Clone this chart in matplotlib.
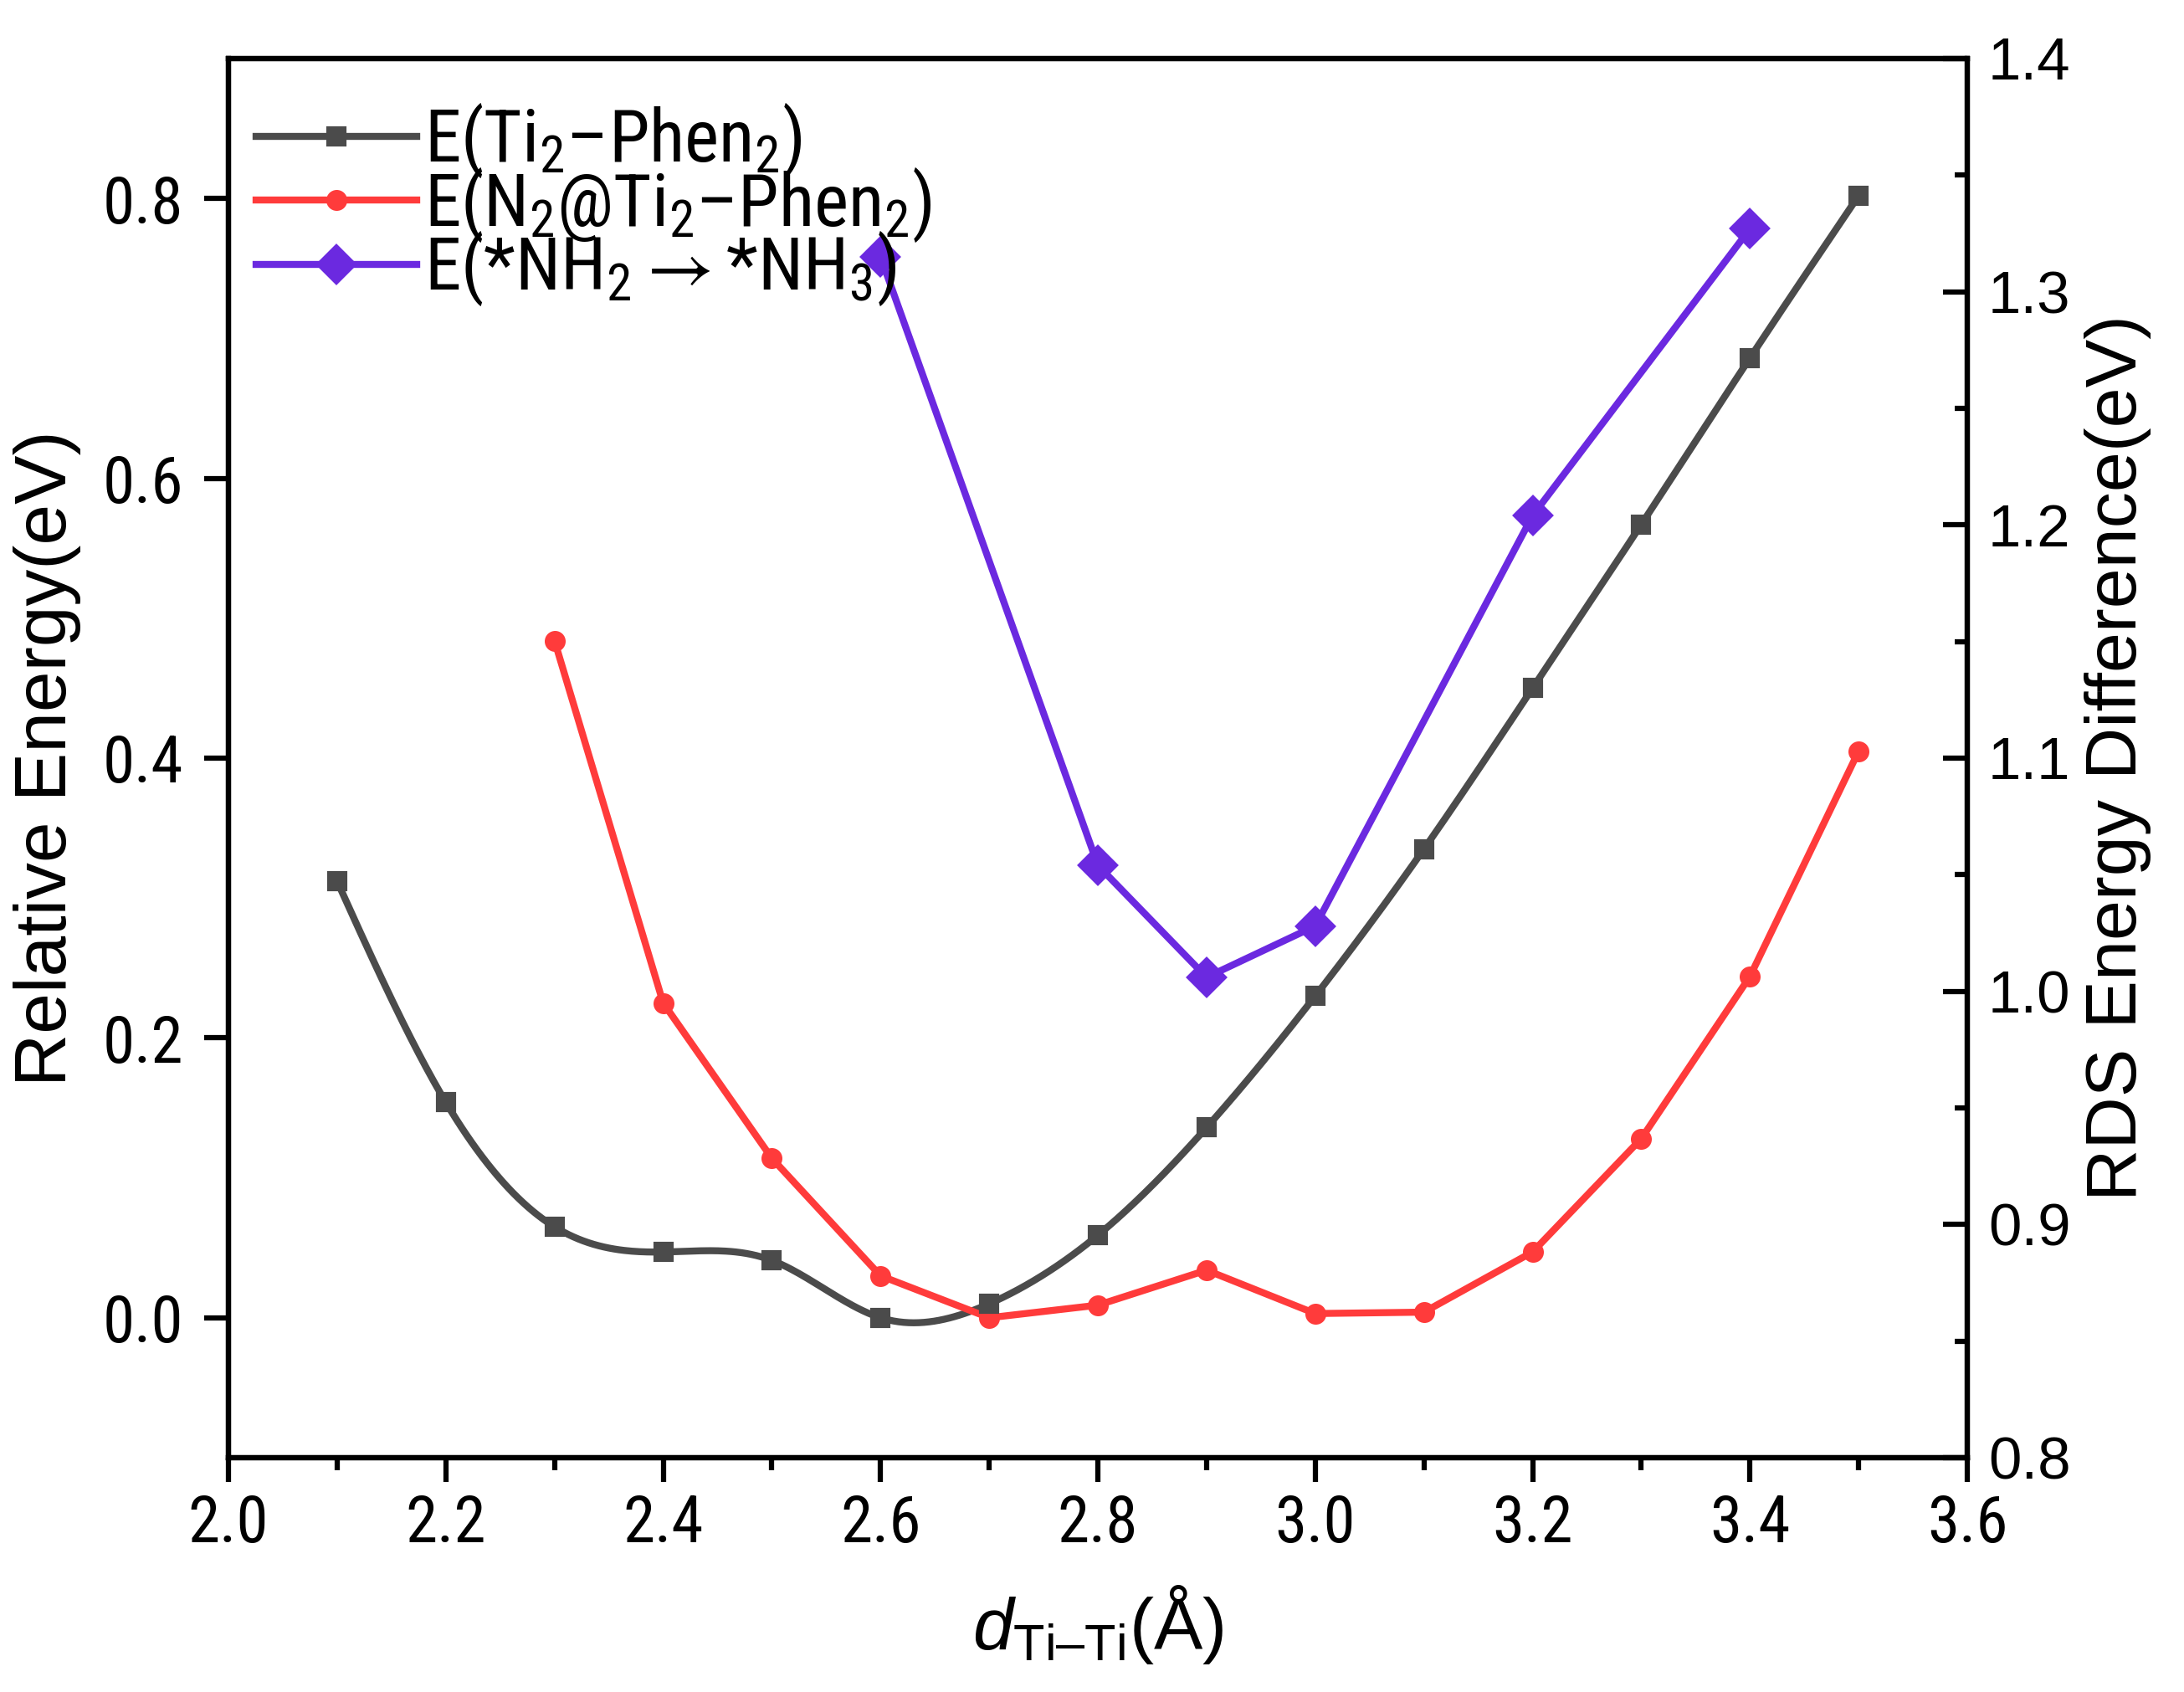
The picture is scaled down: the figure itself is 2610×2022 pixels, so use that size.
import numpy as np
import matplotlib
matplotlib.use("Agg")
import matplotlib.pyplot as plt
from matplotlib import font_manager
from matplotlib.ticker import MultipleLocator
from matplotlib.lines import Line2D

# data
x_ti = [2.1, 2.2, 2.3, 2.4, 2.5, 2.6, 2.7, 2.8, 2.9, 3.0, 3.1, 3.2, 3.3, 3.4, 3.5]
e_ti = [0.312, 0.154, 0.065, 0.047, 0.041, 0.000, 0.010, 0.059, 0.136, 0.230,
        0.335, 0.450, 0.567, 0.686, 0.802]

x_n2 = [2.3, 2.4, 2.5, 2.6, 2.7, 2.8, 2.9, 3.0, 3.1, 3.2, 3.3, 3.4, 3.5]
e_n2 = [0.484, 0.225, 0.114, 0.030, 0.000, 0.009, 0.034, 0.003, 0.004, 0.047,
        0.128, 0.244, 0.405]

x_rds = [2.6, 2.8, 2.9, 3.0, 3.2, 3.4]
e_rds = [1.315, 1.054, 1.006, 1.028, 1.204, 1.327]

C_TI = "#4B4B4B"
C_N2 = "#FF3B3B"
C_RDS = "#6B29E0"

names = {f.name for f in font_manager.fontManager.ttflist}
BASE = "Liberation Sans" if "Liberation Sans" in names else "DejaVu Sans"
NARROW = BASE
for cand in ["Liberation Sans Narrow", "Arial Narrow", "Roboto Condensed",
             "Archivo Narrow"]:
    if cand in names:
        NARROW = cand
        break

plt.rcParams["font.family"] = [BASE, "DejaVu Sans"]
plt.rcParams["mathtext.fontset"] = "custom"
plt.rcParams["mathtext.rm"] = BASE
plt.rcParams["mathtext.it"] = BASE + ":italic"
plt.rcParams["mathtext.default"] = "regular"


def natural_spline(xs, ys, n=600):
    # plain natural cubic spline, like Origin's spline connect
    xs = np.asarray(xs, float)
    ys = np.asarray(ys, float)
    m = len(xs)
    h = np.diff(xs)
    A = np.zeros((m, m))
    b = np.zeros(m)
    A[0, 0] = 1
    A[-1, -1] = 1
    for i in range(1, m - 1):
        A[i, i - 1] = h[i - 1]
        A[i, i] = 2 * (h[i - 1] + h[i])
        A[i, i + 1] = h[i]
        b[i] = 6 * ((ys[i + 1] - ys[i]) / h[i] - (ys[i] - ys[i - 1]) / h[i - 1])
    M = np.linalg.solve(A, b)
    xx = np.linspace(xs[0], xs[-1], n)
    idx = np.clip(np.searchsorted(xs, xx) - 1, 0, m - 2)
    x0, x1 = xs[idx], xs[idx + 1]
    hh = x1 - x0
    yy = (M[idx] * (x1 - xx) ** 3 / (6 * hh) + M[idx + 1] * (xx - x0) ** 3 / (6 * hh)
          + (ys[idx] / hh - M[idx] * hh / 6) * (x1 - xx)
          + (ys[idx + 1] / hh - M[idx + 1] * hh / 6) * (xx - x0))
    return xx, yy


fig = plt.figure(figsize=(8.7, 6.74), dpi=300)
ax = fig.add_axes([0.1046, 0.1385, 0.7962, 0.8269])
ax2 = ax.twinx()

lw = 2.0
xs, ys = natural_spline(x_ti, e_ti)
ax.plot(xs, ys, color=C_TI, lw=lw, zorder=3)
ax.plot(x_ti, e_ti, ls="none", marker="s", ms=5, color=C_TI, zorder=4)
ax.plot(x_n2, e_n2, color=C_N2, lw=lw, marker="o", ms=5, zorder=3)
ax2.plot(x_rds, e_rds, color=C_RDS, lw=lw, marker="D", ms=7.5, zorder=3)

ax.set_xlim(2.0, 3.6)
ax.set_ylim(-0.1, 0.9)
ax2.set_ylim(0.8, 1.4)

ax.xaxis.set_major_locator(MultipleLocator(0.2))
ax.xaxis.set_minor_locator(MultipleLocator(0.1))
ax.set_yticks([0.0, 0.2, 0.4, 0.6, 0.8])
ax2.yaxis.set_major_locator(MultipleLocator(0.1))
ax2.yaxis.set_minor_locator(MultipleLocator(0.05))

ax.tick_params(axis="x", which="major", direction="out", length=7, width=1.5,
               labelsize=18.5, pad=3, top=False)
ax.tick_params(axis="x", which="minor", direction="out", length=3.5, width=1.5, top=False)
ax.tick_params(axis="y", which="major", direction="out", length=7, width=1.5,
               labelsize=18.5, pad=6, right=False)
ax2.tick_params(axis="y", which="major", direction="in", length=7, width=1.5,
                labelsize=17, pad=6)
ax2.tick_params(axis="y", which="minor", direction="in", length=3.5, width=1.5)

ax.set_xticklabels([f"{v:.1f}" for v in ax.get_xticks()], fontfamily=NARROW)
ax.set_yticklabels([f"{v:.1f}" for v in ax.get_yticks()], fontfamily=NARROW)
ax2.set_yticklabels([f"{v:.1f}" for v in ax2.get_yticks()])
ax.set_xlim(2.0, 3.6)
ax2.set_ylim(0.8, 1.4)

for a in (ax, ax2):
    for sp in a.spines.values():
        sp.set_linewidth(1.5)

ax.set_xlabel(r"$\mathit{d}_{\mathrm{Ti–Ti}}$(Å)", fontsize=21, labelpad=8)
ax.set_ylabel("Relative Energy(eV)", fontsize=21, labelpad=6)
ax2.set_ylabel("RDS Energy Difference(eV)", fontsize=20.7, labelpad=4)

handles = [
    Line2D([], [], color=C_TI, lw=lw, marker="s", ms=5),
    Line2D([], [], color=C_N2, lw=lw, marker="o", ms=5),
    Line2D([], [], color=C_RDS, lw=lw, marker="D", ms=7.5),
]
labels = [
    "E(Ti$_2$–Phen$_2$)",
    "E(N$_2$@Ti$_2$–Phen$_2$)",
    r"E(*NH$_2$$\rightarrow$*NH$_3$)",
]
leg = ax2.legend(handles, labels, loc="upper left", frameon=False,
                 prop={"family": [NARROW, "DejaVu Sans"], "size": 21},
                 handlelength=2.2, handletextpad=0.1, labelspacing=-0.2,
                 borderaxespad=0.3, bbox_to_anchor=(-0.0137, 1.006))

fig.savefig("out.png", dpi=300)
